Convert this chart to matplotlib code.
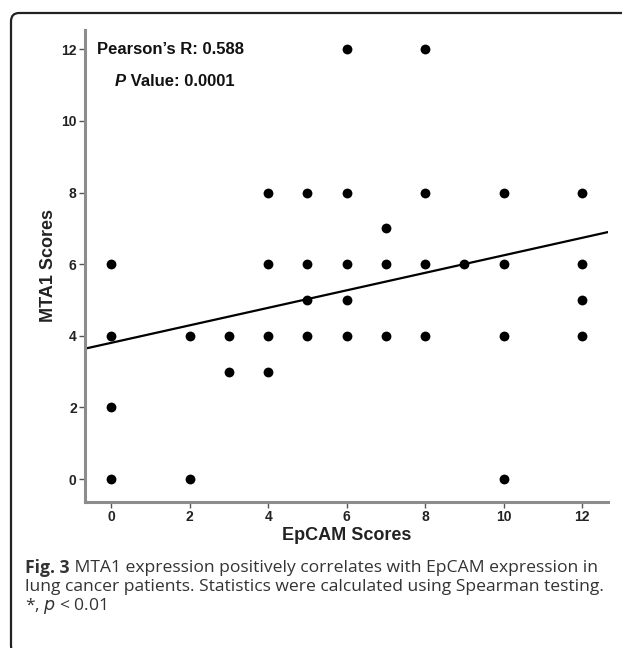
import numpy as np
import matplotlib.pyplot as plt
from matplotlib.patches import FancyBboxPatch

# datos
epcam = [0, 0, 0, 0, 2, 2, 3, 3, 4, 4, 4, 4, 5, 5, 5, 5, 6, 6, 6, 6, 6,
         7, 7, 7, 8, 8, 8, 8, 9, 10, 10, 10, 10, 12, 12, 12, 12]
mta1 = [6, 4, 2, 0, 4, 0, 4, 3, 8, 6, 4, 3, 8, 6, 5, 4, 12, 8, 6, 5, 4,
        7, 6, 4, 12, 8, 6, 4, 6, 8, 6, 4, 0, 8, 6, 5, 4]
xticks = [0, 2, 4, 6, 8, 10, 12]
yticks = [0, 2, 4, 6, 8, 10, 12]

W, H = 622, 648
fig = plt.figure(figsize=(W / 100, H / 100), dpi=100)

# marco redondeado (solo izquierda y arriba visibles)
box = FancyBboxPatch((11 / W, -6 / H), 700 / W, (H - 7) / H,
                     boxstyle="round,pad=0,rounding_size=0.013",
                     transform=fig.transFigure, fill=False,
                     edgecolor='#222222', linewidth=1.6, clip_on=False)
fig.patches.append(box)

ax = fig.add_axes([85 / W, 1 - 502 / H, (608 - 85) / W, (502 - 30) / H])
ax.scatter(epcam, mta1, s=50, color='black', zorder=3, linewidths=0)

xlim = (-0.67, 12.66)
pend, corte = np.polyfit(epcam, mta1, 1)  # recta de regresion
xl = np.array(xlim)
ax.plot(xl, pend * xl + corte, color='black', linewidth=1.6, zorder=2)

ax.set_xlim(*xlim)
ax.set_ylim(-0.64, 12.54)
ax.set_xticks(xticks)
ax.set_yticks(yticks)

tick_font = {'family': ['Liberation Sans Narrow', 'Liberation Sans'], 'weight': 'bold', 'size': 10}
ax.set_xticklabels(xticks, fontdict=tick_font, color='#222222')
ax.set_yticklabels(yticks, fontdict=tick_font, color='#222222')
ax.tick_params(length=4, width=1, color='#555555', pad=2)

for s in ['top', 'right']:
    ax.spines[s].set_visible(False)
for s in ['left', 'bottom']:
    ax.spines[s].set_color('#8c8c8c')
    ax.spines[s].set_linewidth(2.2)

lab_font = {'family': 'Liberation Sans', 'weight': 'bold', 'size': 13}
ax.set_xlabel('EpCAM Scores', fontdict=lab_font, color='#222222', labelpad=2)
ax.set_ylabel('MTA1 Scores', fontdict=lab_font, color='#222222', labelpad=3)

fig.text(97 / W, 1 - 49 / H, "Pearson\u2019s R: 0.588",
         fontsize=12, fontweight='bold', family='Liberation Sans', va='center', color='#111111')
tp = fig.text(115 / W, 1 - 82 / H, "P",
              fontsize=12, fontweight='bold', style='italic', family='Liberation Sans',
              va='center', color='#111111')

# pie de figura
cap_font = 'Open Sans'
cap_size = 12.6
tf = fig.text(25 / W, 1 - 568 / H, "Fig. 3", fontsize=cap_size, fontweight='bold',
              family=cap_font, va='center', color='#333333')

fig.canvas.draw()
r = fig.canvas.get_renderer()
x_p = tp.get_window_extent(r).x1
fig.text(x_p / W, 1 - 82 / H, " Value: 0.0001",
         fontsize=12, fontweight='bold', family='Liberation Sans', va='center', color='#111111')
x_f = tf.get_window_extent(r).x1
fig.text(x_f / W, 1 - 568 / H, " MTA1 expression positively correlates with EpCAM expression in",
         fontsize=cap_size, family=cap_font, va='center', color='#333333')
fig.text(25 / W, 1 - 587 / H, "lung cancer patients. Statistics were calculated using Spearman testing.",
         fontsize=cap_size, family=cap_font, va='center', color='#333333')
fig.text(25 / W, 1 - 606 / H, "*, $p$ < 0.01",
         fontsize=cap_size, family=cap_font, va='center', color='#333333')

fig.savefig('out.png', dpi=100)
